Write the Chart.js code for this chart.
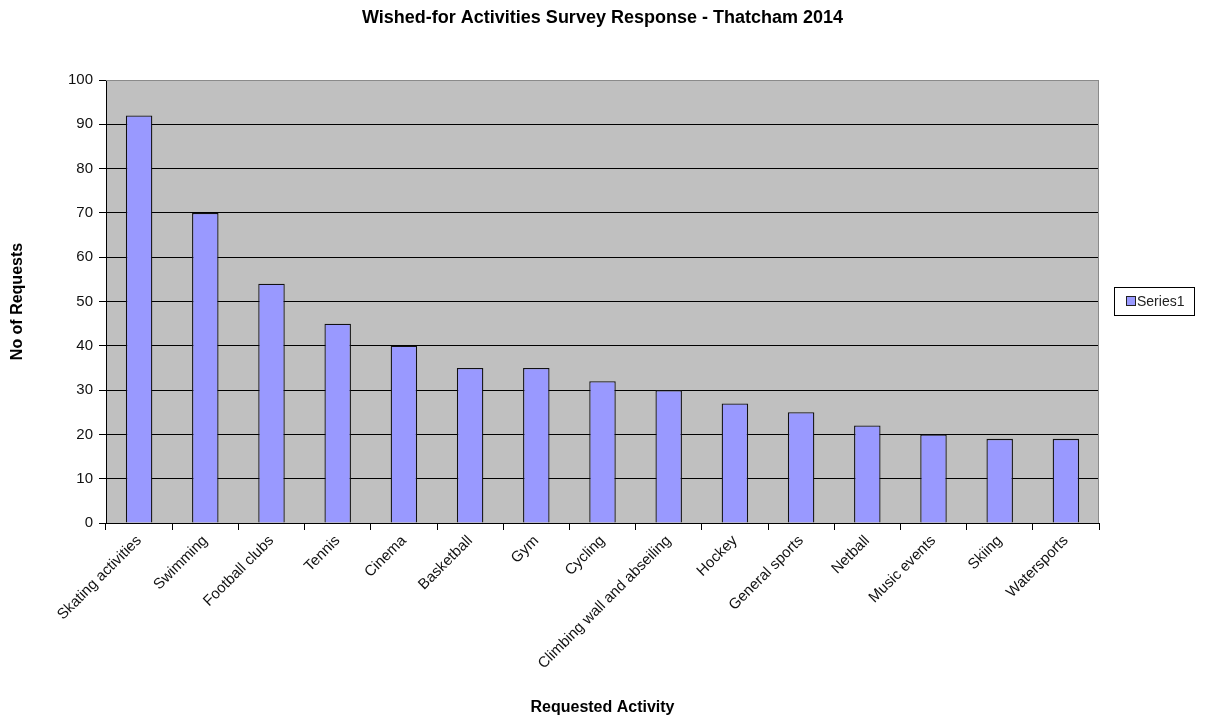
<!DOCTYPE html>
<html>
<head>
<meta charset="utf-8">
<script src="https://cdn.jsdelivr.net/npm/chart.js@4.4.1/dist/chart.umd.min.js"></script>
<style>
    html, body { margin: 0; padding: 0; background: #fff; }
    #wrap { width: 1205px; height: 721px; }
</style>
</head>
<body>
<div id="wrap"><canvas id="surveyChart"></canvas></div>
<script>
// Survey data
const activities = ['Skating activities', 'Swimming', 'Football clubs', 'Tennis', 'Cinema', 'Basketball', 'Gym', 'Cycling', 'Climbing wall and abseiling', 'Hockey', 'General sports', 'Netball', 'Music events', 'Skiing', 'Watersports'];
const requests = [92, 70, 54, 45, 40, 35, 35, 32, 30, 27, 25, 22, 20, 19, 19];
const seriesName = 'Series1';

const FONT = "'Liberation Sans', Arial, sans-serif";

// grey plot background + frame, and a boxed legend on the right
const plotStyle = {
    id: 'plotStyle',
    beforeDraw(chart) {
        const a = chart.chartArea;
        const ctx = chart.ctx;
        ctx.save();
        ctx.fillStyle = '#c0c0c0';
        ctx.fillRect(a.left, a.top, a.right - a.left, a.bottom - a.top);
        ctx.restore();
    },
    afterDraw(chart) {
        const a = chart.chartArea;
        const ctx = chart.ctx;
        ctx.save();
        ctx.strokeStyle = '#8a8a8a';
        ctx.lineWidth = 1;
        ctx.beginPath();
        ctx.moveTo(a.left, a.top + 0.5);
        ctx.lineTo(a.right - 0.5, a.top + 0.5);
        ctx.lineTo(a.right - 0.5, a.bottom);
        ctx.stroke();

        // legend
        ctx.strokeStyle = '#000';
        ctx.strokeRect(1114.5, 287.5, 80, 28);
        ctx.fillStyle = '#9999ff';
        ctx.fillRect(1127, 297, 8, 8);
        ctx.strokeStyle = '#222';
        ctx.strokeRect(1126.5, 296.5, 9, 9);
        ctx.fillStyle = '#222';
        ctx.font = '14px ' + FONT;
        ctx.textBaseline = 'middle';
        ctx.fillText(seriesName, 1137, 302);
        ctx.restore();
    }
};

new Chart(document.getElementById('surveyChart'), {
    type: 'bar',
    data: {
        labels: activities,
        datasets: [{
            label: seriesName,
            data: requests,
            backgroundColor: '#9999ff',
            borderColor: '#111',
            borderWidth: 1.3,
            categoryPercentage: 1.0,
            barPercentage: 0.4
        }]
    },
    options: {
        responsive: true,
        maintainAspectRatio: false,
        animation: false,
        layout: { padding: 0 },
        plugins: {
            legend: { display: false },
            tooltip: { enabled: false },
            title: {
                display: true,
                text: 'Wished-for Activities Survey Response - Thatcham 2014',
                color: '#000',
                font: { family: FONT, size: 18, weight: 'bold' },
                padding: { top: 7, bottom: 51.4 }
            }
        },
        scales: {
            x: {
                grid: {
                    offset: true,
                    drawOnChartArea: false,
                    drawTicks: true,
                    tickLength: 7,
                    color: '#000'
                },
                border: { color: '#000', width: 1 },
                ticks: {
                    color: '#111',
                    font: { family: FONT, size: 15 },
                    minRotation: 45,
                    maxRotation: 45,
                    autoSkip: false,
                    padding: 2
                },
                title: {
                    display: true,
                    text: 'Requested Activity',
                    color: '#000',
                    font: { family: FONT, size: 16, weight: 'bold' },
                    padding: 4
                },
                afterFit: function(scale) { scale.height = 198; }
            },
            y: {
                min: 0,
                max: 100,
                ticks: {
                    stepSize: 10,
                    color: '#111',
                    font: { family: FONT, size: 15 },
                    padding: 6
                },
                grid: {
                    color: function(ctx) { return ctx.tick && ctx.tick.value === 100 ? '#8a8a8a' : '#000'; },
                    tickColor: '#000',
                    tickLength: 7,
                    lineWidth: 1
                },
                border: { color: '#000', width: 1 },
                title: {
                    display: true,
                    text: 'No of Requests',
                    color: '#000',
                    font: { family: FONT, size: 16, weight: 'bold' },
                    padding: 8
                },
                afterFit: function(scale) { scale.width = 106; }
            },
            // empty strip on the right that holds the legend box
            legendSpace: {
                type: 'linear',
                position: 'right',
                display: true,
                grid: { display: false },
                border: { display: false },
                ticks: { display: false },
                afterFit: function(scale) { scale.width = 106; }
            }
        }
    },
    plugins: [plotStyle]
});
</script>
</body>
</html>
